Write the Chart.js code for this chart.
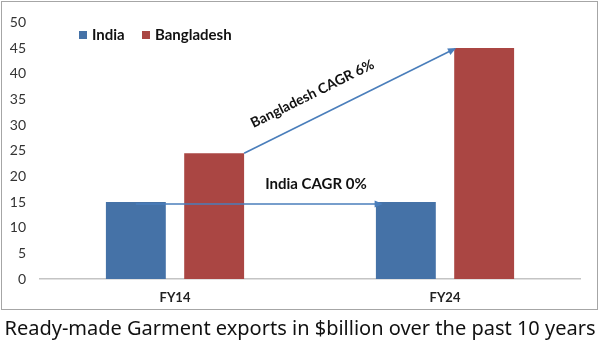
<!DOCTYPE html>
<html>
<head>
<meta charset="utf-8">
<script src="https://cdn.jsdelivr.net/npm/chart.js@4/dist/chart.umd.min.js"></script>
<style>
  html, body { margin: 0; padding: 0; background: #fff; }
  #wrap { position: relative; width: 600px; height: 342px; overflow: hidden; }
  #frame {
    position: absolute; left: 1px; top: 1px; width: 597px; height: 309px;
    box-sizing: border-box; border: 1px solid #a6a6a6;
  }
  #chart { position: absolute; left: 0; top: 0; }
  #caption {
    position: absolute; left: 0; top: 314px; width: 600px; text-align: center;
    font-family: "Noto Sans", sans-serif; font-size: 20px; color: #111; white-space: nowrap;
  }
</style>
</head>
<body>
<div id="wrap">
  <div id="frame"></div>
  <canvas id="chart" width="600" height="342"></canvas>
  <div id="caption">Ready-made Garment exports in $billion over the past 10 years</div>
</div>
<script>
  const years = ["FY14", "FY24"];
  const india = [15, 15];
  const bangladesh = [24.5, 45];
  const yTicks = [0, 5, 10, 15, 20, 25, 30, 35, 40, 45, 50];

  const indiaColor = "#4572A7";
  const bdColor = "#AA4643";
  const arrowColor = "#4A7EBB";
  const labelFont = 'bold 15px Lato, "Open Sans", sans-serif';

  // legend drawn by hand so it can sit left of centre
  const legendPlugin = {
    id: "sideLegend",
    afterDraw(chart) {
      const ctx = chart.ctx;
      const spots = [79, 142];
      ctx.save();
      ctx.font = labelFont;
      ctx.textBaseline = "middle";
      chart.data.datasets.forEach((ds, i) => {
        ctx.fillStyle = ds.backgroundColor;
        ctx.fillRect(spots[i], 31, 8, 8);
        ctx.fillStyle = "#111";
        ctx.fillText(ds.label, spots[i] + 13, 35);
      });
      ctx.restore();
    }
  };

  const drawArrow = (ctx, x1, y1, x2, y2) => {
    const ang = Math.atan2(y2 - y1, x2 - x1);
    const head = 9;
    ctx.beginPath();
    ctx.moveTo(x1, y1);
    ctx.lineTo(x2 - Math.cos(ang) * head * 0.8, y2 - Math.sin(ang) * head * 0.8);
    ctx.stroke();
    ctx.beginPath();
    ctx.moveTo(x2, y2);
    ctx.lineTo(x2 - head * Math.cos(ang - 0.4), y2 - head * Math.sin(ang - 0.4));
    ctx.lineTo(x2 - head * Math.cos(ang + 0.4), y2 - head * Math.sin(ang + 0.4));
    ctx.closePath();
    ctx.fill();
  };

  // CAGR arrows between the two years, anchored to the bars
  const cagrPlugin = {
    id: "cagrArrows",
    afterDatasetsDraw(chart) {
      const ctx = chart.ctx;
      const a = chart.getDatasetMeta(0).data;
      const b = chart.getDatasetMeta(1).data;
      ctx.save();
      ctx.strokeStyle = arrowColor;
      ctx.fillStyle = arrowColor;
      ctx.lineWidth = 1.6;

      // India: flat line
      const iy = a[0].y + 2;
      const ix1 = a[0].x;
      const ix2 = a[1].x - a[1].width / 2 + 7;
      drawArrow(ctx, ix1, iy, ix2, iy);

      // Bangladesh: rising line
      const bx1 = b[0].x + b[0].width / 2;
      const by1 = b[0].y;
      const bx2 = b[1].x - b[1].width / 2 + 2;
      const by2 = b[1].y;
      drawArrow(ctx, bx1, by1, bx2, by2);

      ctx.font = labelFont;
      ctx.fillStyle = "#111";
      ctx.textAlign = "center";
      ctx.textBaseline = "middle";
      ctx.fillText("India CAGR 0%", 316, iy - 20);

      const ang = Math.atan2(by2 - by1, bx2 - bx1);
      const t = 0.37;
      const px = bx1 + (bx2 - bx1) * t + Math.sin(ang) * 23;
      const py = by1 + (by2 - by1) * t - Math.cos(ang) * 23;
      ctx.translate(px, py);
      ctx.rotate(ang);
      ctx.font = 'bold 14px Lato, "Open Sans", sans-serif';
      ctx.fillText("Bangladesh CAGR 6%", 0, 0);
      ctx.restore();
    }
  };

  new Chart(document.getElementById("chart"), {
    type: "bar",
    data: {
      labels: years,
      datasets: [
        { label: "India", data: india, backgroundColor: indiaColor },
        { label: "Bangladesh", data: bangladesh, backgroundColor: bdColor }
      ]
    },
    options: {
      responsive: false,
      animation: false,
      categoryPercentage: 0.58,
      barPercentage: 0.765,
      layout: { padding: { top: 18, right: 20, left: 0, bottom: 0 } },
      plugins: {
        legend: { display: false },
        tooltip: { enabled: false }
      },
      scales: {
        x: {
          grid: { display: false, drawTicks: false },
          border: { color: "#c4c4c4", width: 1.5 },
          ticks: { color: "#222", font: { family: "Lato", size: 13, weight: "bold" }, padding: 11 },
          afterFit: (s) => { s.height = 63; }
        },
        y: {
          min: 0,
          max: 50,
          afterBuildTicks: (s) => { s.ticks = yTicks.map((v) => ({ value: v })); },
          grid: { display: false, drawTicks: false },
          border: { display: false },
          ticks: { color: "#333", font: { family: "Lato", size: 14 }, padding: 14 },
          afterFit: (s) => { s.width = 40; }
        }
      }
    },
    plugins: [legendPlugin, cagrPlugin]
  });
</script>
</body>
</html>
